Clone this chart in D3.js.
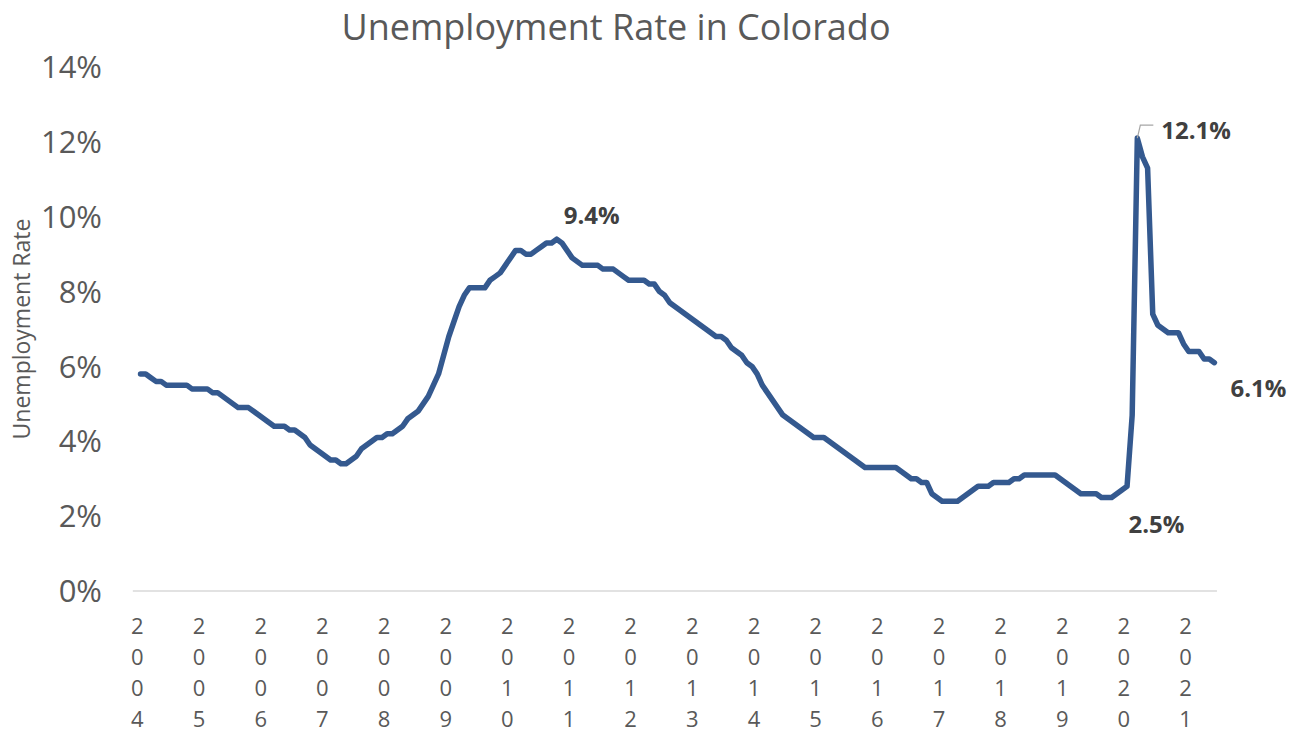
<!DOCTYPE html>
<html>
<head>
<meta charset="utf-8">
<script src="https://cdn.jsdelivr.net/npm/d3@7"></script>
<style>
  html, body { margin: 0; padding: 0; background: #fff; }
  svg { display: block; font-family: "Open Sans", sans-serif; }
</style>
</head>
<body>
<svg id="chart" width="1289" height="736"></svg>
<script>
// Monthly Colorado unemployment rate (%), first value is Feb 2004.
const firstMonth = 1;  // months after Jan 2004
const rate = [
  5.8, 5.8, 5.7, 5.6, 5.6, 5.5, 5.5, 5.5, 5.5, 5.5, 5.4,        // 2004 (Feb-Dec)
  5.4, 5.4, 5.4, 5.3, 5.3, 5.2, 5.1, 5.0, 4.9, 4.9, 4.9, 4.8,   // 2005
  4.7, 4.6, 4.5, 4.4, 4.4, 4.4, 4.3, 4.3, 4.2, 4.1, 3.9, 3.8,   // 2006
  3.7, 3.6, 3.5, 3.5, 3.4, 3.4, 3.5, 3.6, 3.8, 3.9, 4.0, 4.1,   // 2007
  4.1, 4.2, 4.2, 4.3, 4.4, 4.6, 4.7, 4.8, 5.0, 5.2, 5.5, 5.8,   // 2008
  6.3, 6.8, 7.2, 7.6, 7.9, 8.1, 8.1, 8.1, 8.1, 8.3, 8.4, 8.5,   // 2009
  8.7, 8.9, 9.1, 9.1, 9.0, 9.0, 9.1, 9.2, 9.3, 9.3, 9.4, 9.3,   // 2010
  9.1, 8.9, 8.8, 8.7, 8.7, 8.7, 8.7, 8.6, 8.6, 8.6, 8.5, 8.4,   // 2011
  8.3, 8.3, 8.3, 8.3, 8.2, 8.2, 8.0, 7.9, 7.7, 7.6, 7.5, 7.4,   // 2012
  7.3, 7.2, 7.1, 7.0, 6.9, 6.8, 6.8, 6.7, 6.5, 6.4, 6.3, 6.1,   // 2013
  6.0, 5.8, 5.5, 5.3, 5.1, 4.9, 4.7, 4.6, 4.5, 4.4, 4.3, 4.2,   // 2014
  4.1, 4.1, 4.1, 4.0, 3.9, 3.8, 3.7, 3.6, 3.5, 3.4, 3.3, 3.3,   // 2015
  3.3, 3.3, 3.3, 3.3, 3.3, 3.2, 3.1, 3.0, 3.0, 2.9, 2.9, 2.6,   // 2016
  2.5, 2.4, 2.4, 2.4, 2.4, 2.5, 2.6, 2.7, 2.8, 2.8, 2.8, 2.9,   // 2017
  2.9, 2.9, 2.9, 3.0, 3.0, 3.1, 3.1, 3.1, 3.1, 3.1, 3.1, 3.1,   // 2018
  3.0, 2.9, 2.8, 2.7, 2.6, 2.6, 2.6, 2.6, 2.5, 2.5, 2.5, 2.6,   // 2019
  2.7, 2.8, 4.7, 12.1, 11.6, 11.3, 7.4, 7.1, 7.0, 6.9, 6.9, 6.9, // 2020
  6.6, 6.4, 6.4, 6.4, 6.2, 6.2, 6.1                              // 2021 (Jan-Jul)
];
const yearLabels = ["2004", "2005", "2006", "2007", "2008", "2009", "2010", "2011", "2012",
  "2013", "2014", "2015", "2016", "2017", "2018", "2019", "2020", "2021"];
const yTicks = [0, 2, 4, 6, 8, 10, 12, 14];
// labelled points: month index (from Jan 2004) and value
const callouts = [
  { month: 82, value: 9.4, text: "9.4%" },
  { month: 195, value: 12.1, text: "12.1%" },
  { month: 189, value: 2.5, text: "2.5%" },
  { month: 210, value: 6.1, text: "6.1%" }
];

const svg = d3.select("#chart");
const grey = "#595959";

const lastMonth = firstMonth + rate.length - 1;
const x = d3.scaleLinear().domain([0, lastMonth]).range([135.4, 1214.4]);
const y = d3.scaleLinear().domain([0, 14]).range([591, 67]);

// title
svg.append("text")
  .attr("x", 616).attr("y", 40)
  .attr("text-anchor", "middle")
  .attr("font-size", 36)
  .attr("fill", grey)
  .text("Unemployment Rate in Colorado");

// y axis labels
svg.append("g").selectAll("text")
  .data(yTicks)
  .join("text")
  .attr("x", 102)
  .attr("y", d => y(d))
  .attr("dy", "0.36em")
  .attr("text-anchor", "end")
  .attr("font-size", 31)
  .attr("fill", grey)
  .text(d => d + "%");

svg.append("text")
  .attr("transform", "translate(30,329) rotate(-90)")
  .attr("text-anchor", "middle")
  .attr("font-size", 23)
  .attr("fill", grey)
  .text("Unemployment Rate");

// x axis line
svg.append("line")
  .attr("x1", x(-0.5)).attr("x2", x(lastMonth + 0.5))
  .attr("y1", y(0)).attr("y2", y(0))
  .attr("stroke", "#d9d9d9").attr("stroke-width", 1.5);

// year labels, one digit per row
const yearG = svg.append("g").selectAll("g")
  .data(yearLabels)
  .join("g")
  .attr("transform", (d, i) => `translate(${x(i * 12) + 2},0)`);
yearG.selectAll("text")
  .data(d => d.split(""))
  .join("text")
  .attr("x", 0)
  .attr("y", (c, j) => 634 + j * 31)
  .attr("text-anchor", "middle")
  .attr("font-size", 22)
  .attr("fill", grey)
  .text(c => c);

// line
const line = d3.line()
  .x((d, i) => x(firstMonth + i))
  .y(d => y(d));

svg.append("path")
  .datum(rate)
  .attr("d", line)
  .attr("fill", "none")
  .attr("stroke", "#34598f")
  .attr("stroke-width", 5.5)
  .attr("stroke-linejoin", "round")
  .attr("stroke-linecap", "round");

// data labels
const offsets = {
  "9.4%": [35, -15, "middle"],
  "12.1%": [24, 1, "start"],
  "2.5%": [50, 36, "middle"],
  "6.1%": [44, 34, "middle"]
};
svg.append("g").selectAll("text")
  .data(callouts)
  .join("text")
  .attr("x", d => x(d.month) + offsets[d.text][0])
  .attr("y", d => y(d.value) + offsets[d.text][1])
  .attr("text-anchor", d => offsets[d.text][2])
  .attr("font-size", 24)
  .attr("font-weight", "bold")
  .attr("fill", "#404040")
  .text(d => d.text);

// leader line for the 12.1% label
const peak = callouts[1];
svg.append("path")
  .attr("d", `M${x(peak.month)},${y(peak.value)} L${x(peak.month) + 3},${y(peak.value) - 13} L${x(peak.month) + 16},${y(peak.value) - 13}`)
  .attr("fill", "none")
  .attr("stroke", "#a6a6a6")
  .attr("stroke-width", 1.2);
</script>
</body>
</html>
